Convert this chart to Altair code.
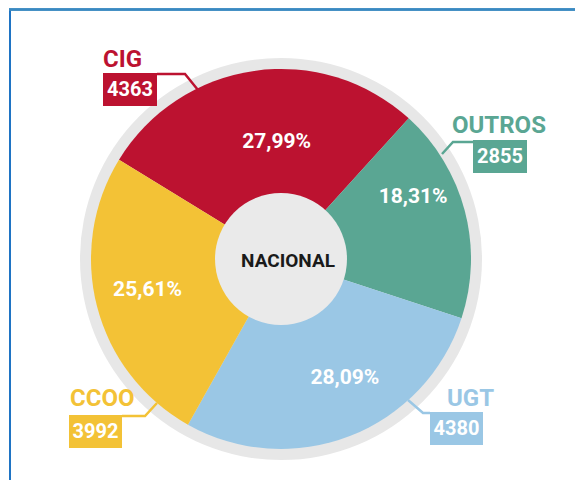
import math
import altair as alt
import pandas as pd

# ---- data ----
labels = ["CIG", "OUTROS", "UGT", "CCOO"]
votes = [4363, 2855, 4380, 3992]
colors = ["#BC1230", "#5AA693", "#9AC7E5", "#F3C236"]
center_label = "NACIONAL"

total = sum(votes)
pct = [f"{v / total * 100:.2f}".replace(".", ",") + "%" for v in votes]

# ---- layout (chart pixel coords) ----
CX, CY = 273, 251
R_RING, R_PIE, R_HOLE = 201, 190, 66
START = math.radians(-58.5)
FONT = "Roboto"
W, H = 567, 472

# percentage label placement: radius and angular nudge (deg) from slice middle
pct_r = [117, 146, 135, 137]
pct_nudge = [6, -10.4, -7, 1.5]

name_pos = [(95, 59), (444, 125), (439, 398), (62, 398)]
box_pos = [(95, 65, 149, 98), (465, 132, 519, 165), (422, 404, 475, 437), (61, 407, 114, 440)]
leaders = [
    [(149, 66), (177, 66), (190, 82)],
    [(465, 134), (445, 134), (434, 146)],
    [(422, 405), (415, 405), (400, 392)],
    [(114, 408), (137, 408), (149, 395)],
]

df = pd.DataFrame({
    "label": labels, "votes": votes, "pct": pct, "idx": list(range(len(labels))),
    "nx": [p[0] for p in name_pos], "ny": [p[1] for p in name_pos],
    "bx": [b[0] for b in box_pos], "by": [b[1] for b in box_pos],
    "bx2": [b[2] for b in box_pos], "by2": [b[3] for b in box_pos],
})
df["bcx"] = (df["bx"] + df["bx2"]) / 2
df["bcy"] = (df["by"] + df["by2"]) / 2
cum = df["votes"].cumsum() - df["votes"] / 2
mid = START + 2 * math.pi * cum / total + pd.Series([math.radians(n) for n in pct_nudge])
df["px"] = CX + pd.Series(pct_r) * mid.apply(math.sin)
df["py"] = CY - pd.Series(pct_r) * mid.apply(math.cos)

lead_rows = []
for lab, pts in zip(labels, leaders):
    for k, (px, py) in enumerate(pts):
        lead_rows.append({"label": lab, "k": k, "px": px, "py": py})
lead_df = pd.DataFrame(lead_rows)

color_scale = alt.Scale(domain=labels, range=colors)
theta_enc = alt.Theta("votes:Q", stack=True,
                      scale=alt.Scale(range=[START, START + 2 * math.pi]))

base = alt.Chart(df)

frame_left = base.mark_rule(color="#1F74C4", strokeWidth=2).encode(
    x=alt.value(2), y=alt.value(1), y2=alt.value(H))
frame_top = base.mark_rule(color="#3A89C2", strokeWidth=2).encode(
    x=alt.value(1), x2=alt.value(W), y=alt.value(1.5))

ring = alt.Chart(pd.DataFrame({"a": [1]})).mark_arc(
    radius=R_RING, theta=0, theta2=2 * math.pi, color="#E7E7E7"
).encode(x=alt.value(CX), y=alt.value(CY))

pie = base.mark_arc(radius=R_PIE).encode(
    theta=theta_enc,
    color=alt.Color("label:N", scale=color_scale, legend=None),
    order=alt.Order("idx:Q"),
    x=alt.value(CX), y=alt.value(CY),
)

hole = alt.Chart(pd.DataFrame({"a": [1]})).mark_arc(
    radius=R_HOLE, theta=0, theta2=2 * math.pi, color="#EAEAEA"
).encode(x=alt.value(CX), y=alt.value(CY))

center_txt = alt.Chart(pd.DataFrame({"t": [center_label]})).mark_text(
    font=FONT, fontSize=19, fontWeight="bold", color="#1A1A1A", baseline="middle"
).encode(text="t:N", x=alt.value(CX + 7), y=alt.value(CY + 2))

pct_txt = base.mark_text(
    font=FONT, fontSize=21, fontWeight="bold", color="white", baseline="middle"
).encode(
    x=alt.X("px:Q", scale=None), y=alt.Y("py:Q", scale=None), text="pct:N",
)

lead = alt.Chart(lead_df).mark_line(strokeWidth=2.5).encode(
    x=alt.X("px:Q", scale=None), y=alt.Y("py:Q", scale=None),
    detail="label:N", order="k:Q",
    color=alt.Color("label:N", scale=color_scale, legend=None),
)

boxes = base.mark_rect().encode(
    x=alt.X("bx:Q", scale=None), x2="bx2:Q",
    y=alt.Y("by:Q", scale=None), y2="by2:Q",
    color=alt.Color("label:N", scale=color_scale, legend=None),
)

nums = base.mark_text(
    font=FONT, fontSize=20, fontWeight="bold", color="white", baseline="middle"
).encode(
    x=alt.X("bcx:Q", scale=None), y=alt.Y("bcy:Q", scale=None), text="votes:N")

names = base.mark_text(
    font=FONT, fontSize=24, fontWeight="bold", align="left", baseline="alphabetic"
).encode(
    x=alt.X("nx:Q", scale=None), y=alt.Y("ny:Q", scale=None), text="label:N",
    color=alt.Color("label:N", scale=color_scale, legend=None),
)

chart = alt.layer(
    frame_left, frame_top, ring, pie, hole, center_txt, pct_txt, lead, boxes, nums, names
).properties(
    width=W, height=H, padding=0, autosize=alt.AutoSizeParams(type="none")
).configure_view(stroke=None)

chart.save("out.html", embed_options={"renderer": "svg", "actions": False})
